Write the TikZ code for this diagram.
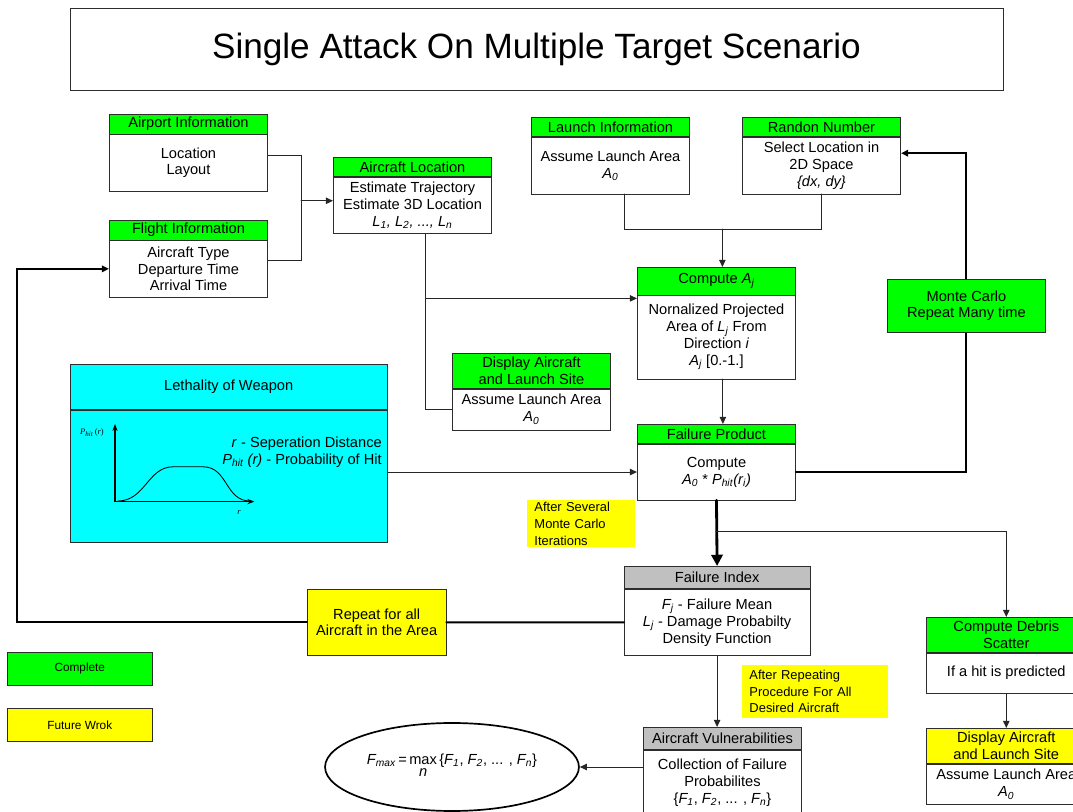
\documentclass[tikz,border=0pt]{standalone}
\usepackage{amsmath}
\usepackage{fontspec}
\setmainfont{Liberation Sans}
\newfontfamily\plotfont{Liberation Serif}
\usetikzlibrary{arrows.meta,positioning,shapes.geometric}
\definecolor{okgreen}{RGB}{0,255,0}
\definecolor{todo}{RGB}{255,255,0}
\definecolor{lethcyan}{RGB}{0,255,255}
\definecolor{idxgray}{RGB}{192,192,192}
\definecolor{boxline}{RGB}{45,45,45}
\newcommand{\vsub}[2]{\textit{#1\textsubscript{#2}}}

\begin{document}
\begin{tikzpicture}[line cap=round,
  >={Triangle[length=5pt,width=4.5pt]},
  every node/.style={font=\fontsize{10.4}{12}\selectfont},
  hdr/.style={draw=boxline,fill=okgreen,minimum width=3.96cm,minimum height=0.49cm,inner sep=0pt,align=center,anchor=north west},
  bdy/.style={draw=boxline,fill=white,minimum width=3.96cm,inner sep=0pt,align=center,below=0pt of #1},
  plain/.style={draw=boxline,inner sep=0pt,align=center,anchor=north west},
  note/.style={fill=todo,inner xsep=0.18cm,inner ysep=0pt,align=left,anchor=north west,font=\fontsize{9.2}{11.8}\selectfont},
  wire/.style={draw=black!85,line width=0.7pt},
  loopwire/.style={draw=black,line width=1.4pt}]
  \path[use as bounding box] (0,0) rectangle (26.825,20.3);
  \clip (0,0) rectangle (26.825,20.3);
  % title
  \node[draw=boxline,minimum width=23.325cm,minimum height=2.05cm,font=\fontsize{25}{30}\selectfont] (title) at (13.41,19.075) {Single Attack On Multiple Target Scenario};
  % inputs
  \node[hdr] (airport) at (2.725,17.45) {Airport Information};
  \node[bdy=airport,minimum height=1.415cm] (airportB) {Location\\Layout};
  \node[hdr] (flight) at (2.725,14.8) {Flight Information};
  \node[bdy=flight,minimum height=1.42cm] (flightB) {Aircraft Type\\Departure Time\\Arrival Time};
  \node[hdr,minimum height=0.485cm] (acloc) at (8.325,16.375) {Aircraft Location};
  \node[bdy=acloc,minimum height=1.4cm] (aclocB) {Estimate Trajectory\\Estimate 3D Location\\\textit{L\textsubscript{1}, L\textsubscript{2}, ..., L\textsubscript{n}}};
  \node[hdr,minimum height=0.485cm] (launch) at (13.275,17.375) {Launch Information};
  \node[bdy=launch,minimum height=1.415cm] (launchB) {Assume Launch Area\\\vsub{A}{0}};
  \node[hdr,minimum height=0.485cm] (random) at (18.55,17.375) {Randon Number};
  \node[bdy=random,minimum height=1.415cm] (randomB) {Select Location in\\2D Space\\\textit{\{dx, dy\}}};
  % middle column
  \node[hdr,minimum height=0.69cm] (compAj) at (15.925,13.625) {Compute \vsub{A}{j}};
  \node[bdy=compAj,minimum height=2.085cm] (compAjB) {Nornalized Projected\\Area of \vsub{L}{j} From\\Direction \textit{i}\\\vsub{A}{j} [0.-1.]};
  \node[hdr,minimum height=0.875cm] (dispA) at (11.3,11.475) {Display Aircraft\\and Launch Site};
  \node[bdy=dispA,minimum height=1.025cm] (dispAB) {Assume Launch Area\\\vsub{A}{0}};
  \node[hdr,minimum height=0.48cm] (failP) at (15.925,9.7) {Failure Product};
  \node[bdy=failP,minimum height=1.4cm] (failPB) {Compute\\\vsub{A}{0} * \textit{P\textsubscript{hit}(r\textsubscript{i})}};
  % weapon
  \node[hdr,fill=lethcyan,minimum width=7.92cm,minimum height=1.125cm] (leth) at (1.75,11.2) {Lethality of Weapon};
  \node[bdy=leth,fill=lethcyan,minimum width=7.92cm,minimum height=3.31cm] (lethB) {};
  \draw[line width=0.9pt,{Stealth[length=5pt]}-{Stealth[length=5pt]}] (2.875,9.7) -- (2.875,7.76) -- (6.36,7.76);
  \draw[line width=0.6pt] (2.95,7.775) .. controls (3.625,7.775) and (3.7,8.63) .. (4.325,8.63) -- (5.075,8.63) .. controls (5.7,8.63) and (5.625,7.775) .. (6.25,7.775);
  \node[font=\plotfont\fontsize{6}{7}\selectfont] (pyl) at (2.3,9.475) {\textit{P\textsubscript{hit}}\,(\textit{r})};
  \node[font=\plotfont\fontsize{6}{7}\selectfont] (pxl) at (5.975,7.475) {\textit{r}};
  \node[anchor=east,align=right,inner sep=0pt] (lethtxt) at (9.55,9.0) {\textit{r} - Seperation Distance\\\vsub{P}{hit} \textit{(r)} - Probability of Hit};
  % outputs
  \node[hdr,fill=idxgray,minimum width=4.64cm,minimum height=0.56cm] (failIdx) at (15.6,6.15) {Failure Index};
  \node[bdy=failIdx,minimum width=4.64cm,minimum height=1.66cm] (failIdxB) {\vsub{F}{j} - Failure Mean\\\vsub{L}{j} - Damage Probabilty\\Density Function};
  \node[hdr,fill=idxgray,minimum height=0.55cm] (acvul) at (16.075,2.125) {Aircraft Vulnerabilities};
  \node[bdy=acvul,minimum height=1.65cm] (acvulB) {Collection of Failure\\Probabilites\\\{\vsub{F}{1}, \vsub{F}{2}, ... , \vsub{F}{n}\}};
  \node[hdr,minimum width=4cm,minimum height=0.875cm] (debris) at (23.15,4.875) {Compute Debris\\Scatter};
  \node[bdy=debris,minimum width=4cm,minimum height=1.015cm] (debrisB) {If a hit is predicted};
  \node[hdr,fill=todo,minimum width=4cm,minimum height=0.875cm] (disp2) at (23.15,2.1) {Display Aircraft\\and Launch Site};
  \node[bdy=disp2,minimum width=4cm,minimum height=1.02cm] (disp2B) {Assume Launch Area\\\vsub{A}{0}};
  \node[ellipse,draw=black,line width=1.2pt,minimum width=5.875cm,minimum height=2.2cm] (fmax) at (11.3,1.125) {\vsub{F}{max}\,=\,\begin{tabular}[t]{@{}c@{}}max\\[-3pt]\textit{n}\end{tabular}\,\{\vsub{F}{1}, \vsub{F}{2}, ... , \vsub{F}{n}\}};
  \node[plain,fill=todo,minimum width=3.47cm,minimum height=1.65cm] (rep) at (7.675,5.575) {Repeat for all\\Aircraft in the Area};
  % notes and legend
  \node[note,text width=2.33cm,minimum height=1.18cm] (note1) at (13.175,7.8) {After Several\\Monte Carlo\\Iterations};
  \node[note,text width=3.28cm,minimum height=1.31cm] (note2) at (18.55,3.675) {After Repeating\\Procedure For All\\Desired Aircraft};
  \node[plain,fill=okgreen,minimum width=3.625cm,minimum height=0.825cm,font=\fontsize{8.4}{10}\selectfont] (done) at (0.175,4.0) {Complete};
  \node[plain,fill=todo,minimum width=3.625cm,minimum height=0.825cm,font=\fontsize{8.4}{10}\selectfont] (future) at (0.175,2.6) {Future Wrok};
  % connectors
  \coordinate (j1) at (7.525,15.28);
  \draw[wire] ([yshift=1.9mm]airportB.east) -| (j1);
  \draw[wire] ([yshift=2.1mm]flightB.east) -| (j1);
  \draw[wire,->] (j1) -- (j1 -| aclocB.west);
  \coordinate (b1) at (10.64,12.84);
  \draw[wire] (aclocB.south -| b1) -- (b1) |- (dispAB.west);
  \draw[wire,->] (b1) -- (b1 -| compAjB.west);
  \coordinate (j2) at (18.06,14.57);
  \draw[wire] ([xshift=3.4mm]launchB.south) |- (j2) -| (randomB.south);
  \draw[wire,->] (j2) -- (j2 |- compAj.north);
  \draw[wire,->] ([xshift=1.6mm]compAjB.south) -- ([xshift=1.6mm]failP.north);
  \draw[wire,->] (failPB.west -| lethB.east) -- (failPB.west);
  % monte carlo loop
  \coordinate (r1) at (24.15,16.47);
  \draw[loopwire,->] (failPB.east) -| (r1) -- (r1 -| randomB.east);
  \node[plain,fill=okgreen,minimum width=3.96cm,minimum height=1.32cm] (mc) at (22.175,13.325) {Monte Carlo\\Repeat Many time};
  \draw[line width=2pt,-{Triangle[length=8pt,width=8pt]}] (failPB.south) -- (failIdx.north);
  \coordinate (j3) at (17.9,7.025);
  \draw[wire,->] (j3) -| (debris.north);
  \draw[wire,->] (debrisB.south) -- (disp2.north);
  % aircraft loop
  \coordinate (lc) at (0.43,0);
  \draw[loopwire] (failIdxB.west) -- (rep.east);
  \draw[loopwire,->] (rep.west) -- (rep.west -| lc) |- (flightB.west);
  \draw[wire,->] (failIdxB.south) -- (failIdxB.south |- acvul.north);
  \draw[wire,->] (fmax.east -| acvulB.west) -- (fmax.east);
\end{tikzpicture}
\end{document}
